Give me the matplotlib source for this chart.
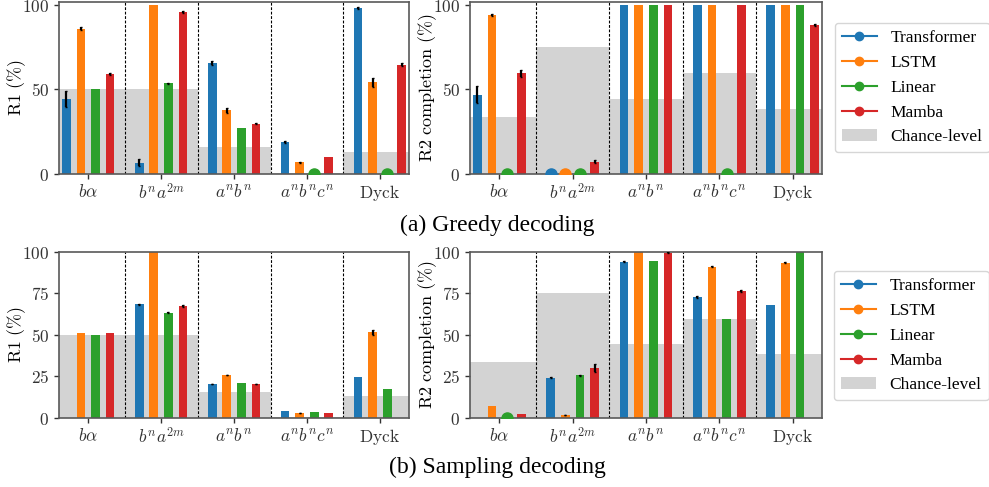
import numpy as np
import matplotlib
matplotlib.use('Agg')
import matplotlib.pyplot as plt
from matplotlib.lines import Line2D
from matplotlib.patches import Patch

plt.rcParams['mathtext.fontset'] = 'cm'

# ── Data ──────────────────────────────────────────────────────────────────────

tasks = [r'$b\alpha$', r'$b^na^{2m}$', r'$a^nb^n$', r'$a^nb^nc^n$', r'$\mathrm{Dyck}$']
models = ['Transformer', 'LSTM', 'Linear', 'Mamba']
colors = ['#1f77b4', '#ff7f0e', '#2ca02c', '#d62728']
nan = np.nan

chance_r1 = [50.0, 50.0, 15.6, 0.3, 12.9]
chance_r2 = [33.6, 75.2, 44.6, 59.5, 38.3]

# greedy decoding, rows = models, cols = tasks
greedy_r1 = [[44.4, 6.5, 65.8, 18.7, 98.2],
             [86.0, 100.0, 37.7, 6.7, 54.2],
             [50.0, 53.6, 27.3, 0.0, 0.0],
             [59.1, 95.7, 29.7, 10.2, 64.6]]
greedy_r1_err = [[4.6, 2.0, 1.2, 0.5, 0.5],
                 [1.0, 0.0, 1.5, 0.3, 2.5],
                 [0.0, 0.4, 0.0, 0.0, 0.0],
                 [0.5, 0.5, 0.3, 0.0, 1.0]]
greedy_r2 = [[46.8, 0.0, 100.0, 100.0, 100.0],
             [94.3, 0.0, 100.0, 100.0, 100.0],
             [0.0, 0.0, 100.0, 0.0, 100.0],
             [59.5, 7.1, 100.0, 100.0, 88.2]]
greedy_r2_err = [[5.0, 0.0, 0.0, 0.0, 0.0],
                 [0.6, 0.0, 0.0, 0.0, 0.0],
                 [0.0, 0.0, 0.0, 0.0, 0.0],
                 [2.0, 1.0, 0.0, 0.0, 0.8]]

# sampling decoding
sampling_r1 = [[nan, 68.3, 20.3, 4.0, 24.7],
               [51.0, 100.0, 25.7, 2.8, 51.6],
               [49.6, 63.1, 20.9, 3.4, 17.3],
               [51.0, 67.3, 20.3, 2.8, nan]]
sampling_r1_err = [[0.0, 0.3, 0.3, 0.0, 0.0],
                   [0.0, 0.0, 0.2, 0.2, 1.5],
                   [0.0, 0.3, 0.0, 0.0, 0.0],
                   [0.0, 0.8, 0.3, 0.0, 0.0]]
sampling_r2 = [[nan, 24.1, 94.0, 72.7, 67.9],
               [7.2, 1.6, 100.0, 91.0, 93.2],
               [0.0, 25.7, 94.4, 59.4, 100.0],
               [2.2, 30.1, 99.4, 76.3, nan]]
sampling_r2_err = [[0.0, 0.4, 0.3, 0.4, 0.0],
                   [0.0, 0.2, 0.0, 0.4, 0.3],
                   [0.0, 0.3, 0.0, 0.0, 0.0],
                   [0.0, 2.5, 0.3, 0.8, 0.0]]


# ── Plot helpers ──────────────────────────────────────────────────────────────

def draw_panel(ax, vals, errs, chance, ylabel, ymax, yticks):
    x = np.arange(len(tasks))
    ax.bar(x, chance, width=1.0, color='lightgray', zorder=0)
    for i, (v, e, c) in enumerate(zip(vals, errs, colors)):
        v = np.array(v, dtype=float)
        e = np.array(e, dtype=float)
        xi = x + (i - 1.5) * 0.2
        ax.bar(xi, v, width=0.12, color=c, zorder=2)
        has_err = e > 0
        ax.errorbar(xi[has_err], v[has_err], yerr=e[has_err], fmt='none',
                    ecolor='black', elinewidth=1.6, capsize=1, zorder=3)
        zero = v == 0
        ax.plot(xi[zero], v[zero], 'o', color=c, ms=8, zorder=3)
    for d in np.arange(0.5, len(tasks) - 1, 1.0):
        ax.axvline(d, color='black', lw=0.8, linestyle=(0, (2.5, 1.5)), zorder=1)
    ax.set_xlim(-0.4, 4.4)
    ax.set_ylim(0, ymax)
    ax.set_xticks(x)
    ax.set_xticklabels(tasks, fontsize=12.5)
    ax.set_yticks(yticks)
    ax.set_yticklabels([f'${t}$' for t in yticks], fontsize=12.5)
    ax.set_ylabel(r'$\mathrm{' + ylabel + r'}$', fontsize=13, va='center')
    ax.yaxis.set_label_coords(-0.12, 0.5)
    for s in ax.spines.values():
        s.set_color('0.35')
        s.set_linewidth(1.2)
    ax.tick_params(colors='0.2', length=3.5, width=1)


def add_legend(fig, anchor):
    handles = [Line2D([0], [0], color=c, marker='o', ms=6, lw=1.5) for c in colors]
    handles.append(Patch(facecolor='lightgray', edgecolor='none'))
    fig.legend(handles, models + ['Chance-level'], loc='upper left',
               bbox_to_anchor=anchor, borderaxespad=0,
               prop={'family': 'Liberation Serif', 'size': 12.5})


# ── Figure ────────────────────────────────────────────────────────────────────

fig = plt.figure(figsize=(9.89, 4.87), dpi=100)

ax_a1 = fig.add_axes([0.0597, 0.6433, 0.3539, 0.3532])
ax_a2 = fig.add_axes([0.4752, 0.6433, 0.3559, 0.3532])
ax_b1 = fig.add_axes([0.0597, 0.1423, 0.3539, 0.3409])
ax_b2 = fig.add_axes([0.4752, 0.1423, 0.3559, 0.3409])

draw_panel(ax_a1, greedy_r1, greedy_r1_err, chance_r1, r'R1\ (\%)', 102, [0, 50, 100])
draw_panel(ax_a2, greedy_r2, greedy_r2_err, chance_r2, r'R2\ completion\ (\%)', 102, [0, 50, 100])
draw_panel(ax_b1, sampling_r1, sampling_r1_err, chance_r1, r'R1\ (\%)', 100, [0, 25, 50, 75, 100])
draw_panel(ax_b2, sampling_r2, sampling_r2_err, chance_r2, r'R2\ completion\ (\%)', 100, [0, 25, 50, 75, 100])

add_legend(fig, (835 / 989, 1 - 23 / 487))
add_legend(fig, (834 / 989, 1 - 271 / 487))

fig.text(0.503, 1 - 225 / 487, '(a) Greedy decoding', ha='center', va='center',
         family='Liberation Serif', fontsize=17)
fig.text(0.503, 1 - 467 / 487, '(b) Sampling decoding', ha='center', va='center',
         family='Liberation Serif', fontsize=17)

fig.savefig('out.png', dpi=100)
